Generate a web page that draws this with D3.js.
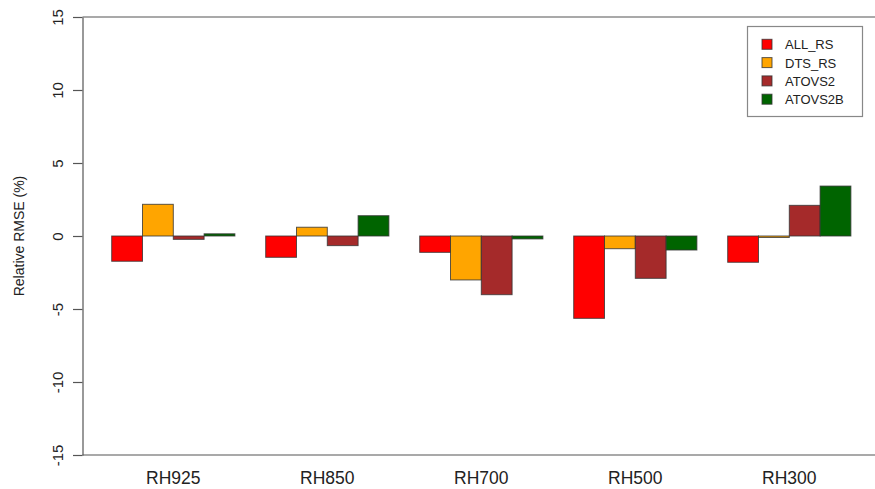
<!DOCTYPE html>
<html>
<head>
<meta charset="utf-8">
<script src="https://cdn.jsdelivr.net/npm/d3@7"></script>
<style>
  body { margin: 0; background: #fff; }
  text { font-family: "Liberation Sans", Arial, Helvetica, sans-serif; fill: #222; }
</style>
</head>
<body>
<div id="container"></div>
<script>
// chart values
const categories = ["RH925", "RH850", "RH700", "RH500", "RH300"];
const series = ["ALL_RS", "DTS_RS", "ATOVS2", "ATOVS2B"];
const colors = ["#ff0000", "#ffa500", "#a52a2a", "#006400"];
const ALL_RS = [-1.73, -1.46, -1.12, -5.64, -1.8];
const DTS_RS = [2.17, 0.6, -3.01, -0.87, -0.1];
const ATOVS2 = [-0.23, -0.66, -4.02, -2.9, 2.1];
const ATOVS2B = [0.15, 1.39, -0.2, -0.96, 3.42];
const yTicks = [-15, -10, -5, 0, 5, 10, 15];
const yTitle = "Relative RMSE (%)";

const width = 875, height = 489;
const values = [ALL_RS, DTS_RS, ATOVS2, ATOVS2B];

const svg = d3.select("#container")
  .append("svg")
  .attr("width", width)
  .attr("height", height);

// scales
const y = d3.scaleLinear().domain([-15, 15]).range([455, 17]);

const x0 = d3.scaleBand()
  .domain(categories)
  .range([80.9, 881.7])
  .paddingInner(0.2)
  .paddingOuter(0.2);

const x1 = d3.scaleBand()
  .domain(series)
  .range([0, x0.bandwidth()]);

const axisX = 82.5;

// bars
let groups = svg.append("g").attr("class", "bars")
  .selectAll("g")
  .data(categories)
  .enter()
  .append("g")
  .attr("transform", (d) => "translate(" + x0(d) + ",0)");

groups.selectAll("rect")
  .data((d, i) => series.map((s, j) => ({ s: s, v: values[j][i], c: colors[j] })))
  .enter()
  .append("rect")
  .attr("x", (d) => x1(d.s))
  .attr("y", (d) => y(Math.max(0, d.v)))
  .attr("width", x1.bandwidth())
  .attr("height", (d) => Math.abs(y(d.v) - y(0)))
  .attr("fill", (d) => d.c)
  .attr("stroke", "#333")
  .attr("stroke-opacity", 0.8)
  .attr("stroke-width", 1);

// box top / bottom lines
svg.append("g").attr("class", "frame")
  .selectAll("line")
  .data([15, -15])
  .enter()
  .append("line")
  .attr("x1", axisX)
  .attr("x2", width)
  .attr("y1", (d) => y(d))
  .attr("y2", (d) => y(d))
  .attr("stroke", "#555")
  .attr("stroke-width", 1.2);

// y axis (plain hyphen minus like the original)
const yAxis = d3.axisLeft(y)
  .tickValues(yTicks)
  .tickFormat((d) => String(d))
  .tickSize(9.5)
  .tickSizeOuter(0);

const yAxis_box = svg.append("g")
  .attr("class", "y_axis")
  .attr("transform", "translate(" + axisX + ",0)")
  .call(yAxis);

yAxis_box.select(".domain").attr("stroke", "#555").attr("stroke-width", 1.2);
yAxis_box.selectAll(".tick line").attr("stroke", "#555").attr("stroke-width", 1.2);
yAxis_box.selectAll(".tick text")
  .attr("x", null)
  .attr("dy", null)
  .attr("transform", "translate(-19.5,0) rotate(-90)")
  .attr("text-anchor", "middle")
  .style("font-size", "15px")
  .style("font-family", "Liberation Sans, Arial, sans-serif")
  .attr("fill", "#222");

// y title
svg.append("text")
  .attr("transform", "translate(24," + y(0) + ") rotate(-90)")
  .attr("text-anchor", "middle")
  .style("font-size", "14px")
  .text(yTitle);

// category labels
svg.append("g").attr("class", "x_labels")
  .selectAll("text")
  .data(categories)
  .enter()
  .append("text")
  .attr("x", (d) => x0(d) + x0.bandwidth() / 2)
  .attr("y", 484)
  .attr("text-anchor", "middle")
  .style("font-size", "17.5px")
  .text((d) => d);

// legend
const legend = svg.append("g").attr("class", "legend");

legend.append("rect")
  .attr("x", 747.5)
  .attr("y", 26.5)
  .attr("width", 115)
  .attr("height", 90)
  .attr("fill", "#fff")
  .attr("stroke", "#888")
  .attr("stroke-width", 1.2);

let items = legend.selectAll("g.item")
  .data(series)
  .enter()
  .append("g")
  .attr("class", "item")
  .attr("transform", (d, i) => "translate(0," + (44.3 + i * 18.3) + ")");

items.append("rect")
  .attr("x", 762)
  .attr("y", -5)
  .attr("width", 10)
  .attr("height", 10)
  .attr("fill", (d, i) => colors[i])
  .attr("stroke", "#333")
  .attr("stroke-opacity", 0.8);

items.append("text")
  .attr("x", 785)
  .attr("y", 5)
  .style("font-size", "13px")
  .text((d) => d);
</script>
</body>
</html>
